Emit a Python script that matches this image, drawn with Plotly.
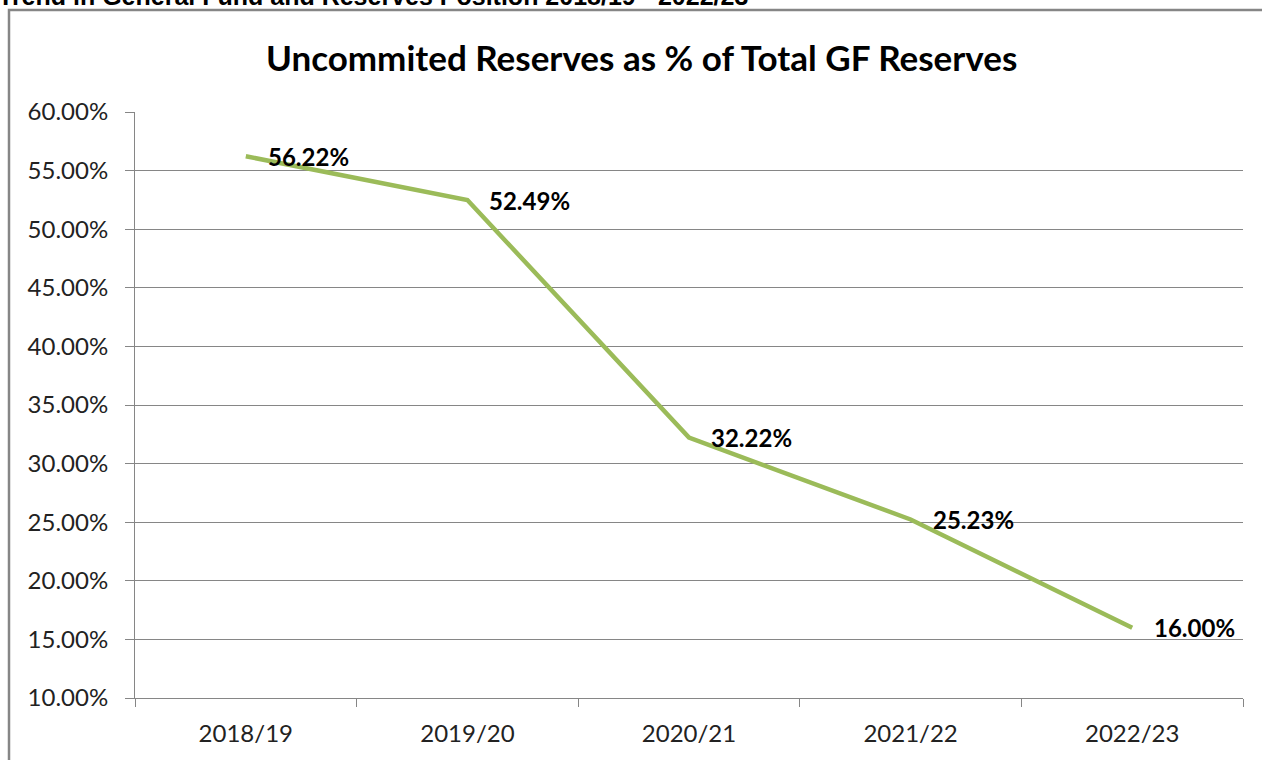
import plotly.graph_objects as go

years = ["2018/19", "2019/20", "2020/21", "2021/22", "2022/23"]
values = [56.22, 52.49, 32.22, 25.23, 16.00]
ytick_vals = [10, 15, 20, 25, 30, 35, 40, 45, 50, 55, 60]
ytick_text = [f"{v:.2f}%" for v in ytick_vals]

W, H = 1262, 760
L, R, T, B = 135, 19, 112, 62
pw, ph = W - L - R, H - T - B

def px_x(x):
    return (x - L) / pw

def px_y(y):
    return 1 - (y - T) / ph

FONT = "Lato, 'Open Sans', sans-serif"

fig = go.Figure()
fig.add_trace(go.Scatter(
    x=years, y=values, mode="lines",
    line=dict(color="#9BBB59", width=4.5),
    hoverinfo="x+y",
))

annotations = []
for yr, v in zip(years, values):
    annotations.append(dict(
        x=yr, y=v, xref="x", yref="y", text=f"<b>{v:.2f}%</b>",
        showarrow=False, xanchor="left", yanchor="middle", xshift=20,
        font=dict(family=FONT, size=24, color="#000000"),
    ))

annotations.append(dict(
    x=px_x(641), y=px_y(57), xref="paper", yref="paper",
    text="<b>Uncommited Reserves as % of Total GF Reserves</b>",
    showarrow=False, xanchor="center", yanchor="middle",
    font=dict(family=FONT, size=35, color="#000000"),
))
annotations.append(dict(
    x=px_x(-4), y=px_y(12), xref="paper", yref="paper",
    text="<b>Trend in General Fund and Reserves Position 2018/19 - 2022/23</b>",
    showarrow=False, xanchor="left", yanchor="bottom",
    font=dict(family="'Liberation Sans', Arial, sans-serif", size=25, color="#000000"),
))

fig.update_layout(
    width=W, height=H,
    margin=dict(l=L, r=R, t=T, b=B),
    paper_bgcolor="white", plot_bgcolor="white",
    showlegend=False,
    annotations=annotations,
    shapes=[dict(
        type="rect", xref="paper", yref="paper",
        x0=px_x(9), x1=px_x(1290), y0=px_y(820), y1=px_y(10),
        line=dict(color="#868686", width=2.5), fillcolor="rgba(0,0,0,0)",
        layer="below",
    )],
)

fig.update_xaxes(
    type="category", range=[-0.5, 4.5],
    showgrid=False, showline=True, linecolor="#868686", linewidth=1,
    ticks="outside", ticklen=8, tickcolor="#868686",
    tickson="boundaries", ticklabelstandoff=14,
    tickfont=dict(family=FONT, size=24, color="#222222"),
    fixedrange=True,
)
fig.update_yaxes(
    range=[10, 60], tickvals=ytick_vals, ticktext=ytick_text,
    showgrid=True, gridcolor="#868686", gridwidth=1,
    showline=True, linecolor="#868686", linewidth=1,
    ticks="outside", ticklen=9, tickcolor="#868686",
    ticklabelstandoff=12,
    tickfont=dict(family=FONT, size=24, color="#222222"),
    zeroline=False, fixedrange=True,
)

fig.write_html(
    "out.html",
    config={"displayModeBar": False},
    post_script="document.body.style.margin='0px';document.body.style.overflow='hidden';",
)
